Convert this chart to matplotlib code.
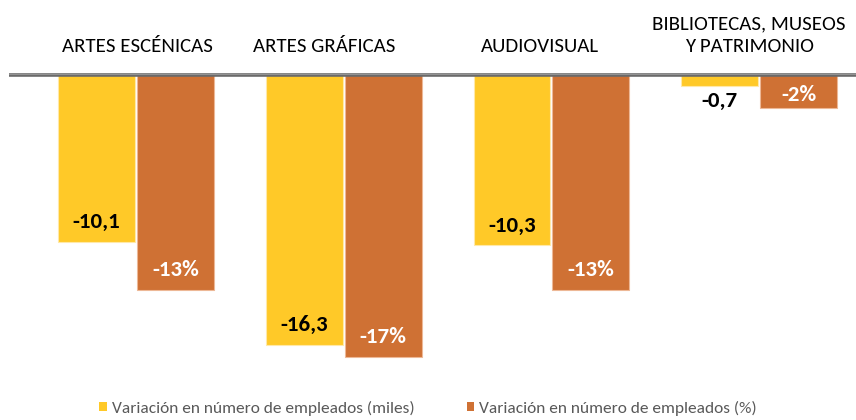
import matplotlib
matplotlib.use("Agg")
import matplotlib.pyplot as plt
from matplotlib.patches import Patch
from matplotlib.lines import Line2D
import numpy as np

categories = ["ARTES ESCÉNICAS", "ARTES GRÁFICAS", "AUDIOVISUAL", "BIBLIOTECAS, MUSEOS\nY PATRIMONIO"]
empleados_miles = [-10.1, -16.3, -10.3, -0.7]
empleados_pct = [-13, -17, -13, -2]
labels_miles = ["-10,1", "-16,3", "-10,3", "-0,7"]
labels_pct = ["-13%", "-17%", "-13%", "-2%"]
legend_labels = ["Variación en número de empleados (miles)", "Variación en número de empleados (%)"]

YELLOW = "#FFC928"
ORANGE = "#CF7134"
FONT = ["Carlito", "Asap Condensed", "DejaVu Sans"]

W, H, DPI = 856, 420, 100
fig = plt.figure(figsize=(W / DPI, H / DPI), dpi=DPI)
fig.patch.set_facecolor("white")

top_px, ax_h_px = 74.5, 300
ax = fig.add_axes([0, (H - top_px - ax_h_px) / H, 1, ax_h_px / H])
px_per_unit = 16.6
ax.set_ylim(-ax_h_px / px_per_unit, 0)
spacing = 207.7
c0 = 136
ax.set_xlim(-c0 / spacing, (W - c0) / spacing)
ax.axis("off")

x = np.arange(len(categories))
bw = 0.37
off = 0.19
b1 = ax.bar(x - off, empleados_miles, bw, color=YELLOW, edgecolor="#FFE9A8", linewidth=0.8)
b2 = ax.bar(x + off, empleados_pct, bw, color=ORANGE, edgecolor="#EDB896", linewidth=0.8)

fig.add_artist(Line2D([9 / W, 1], [1 - 74.5 / H] * 2, color="#6A6A6A", linewidth=2.6,
                      solid_capstyle="butt"))
fig.add_artist(Line2D([9 / W, 1], [1 - 73.5 / H] * 2, color="#9A9A9A", linewidth=0.6))

def place(bars, vals, labels, color):
    for rect, v, lab in zip(bars, vals, labels):
        xc = rect.get_x() + rect.get_width() / 2
        length_px = abs(v) * px_per_unit
        if length_px > 26:
            dy = 20 if length_px > 40 else 13
            col = color
        else:
            dy = -15
            col = "black"
        ax.annotate(lab, (xc, v), xytext=(0, dy * 72 / DPI), textcoords="offset points",
                    ha="center", va="center", fontsize=16.5, fontweight="bold",
                    color=col, family=FONT)

place(b1, empleados_miles, labels_miles, "black")
place(b2, empleados_pct, labels_pct, "white")

cat_dx = [1, -20, -11, -10]
for xi, cat, dx in zip(x, categories, cat_dx):
    ax.annotate(cat, (xi, 0), xytext=(dx * 72 / DPI, 19 * 72 / DPI), textcoords="offset points",
                ha="center", va="bottom", fontsize=15, color="black", family=FONT,
                linespacing=1.45, annotation_clip=False)

handles = [Patch(facecolor=YELLOW), Patch(facecolor=ORANGE)]
leg = fig.legend(handles, legend_labels, loc="center", bbox_to_anchor=(0.5, 1 - 408 / H),
                 ncol=2, frameon=False, handlelength=0.42, handleheight=0.42, handletextpad=0.3,
                 columnspacing=3.0, prop={"family": FONT, "size": 12.5})
for t in leg.get_texts():
    t.set_color("#595959")

fig.savefig("out.png", dpi=DPI, facecolor="white")
